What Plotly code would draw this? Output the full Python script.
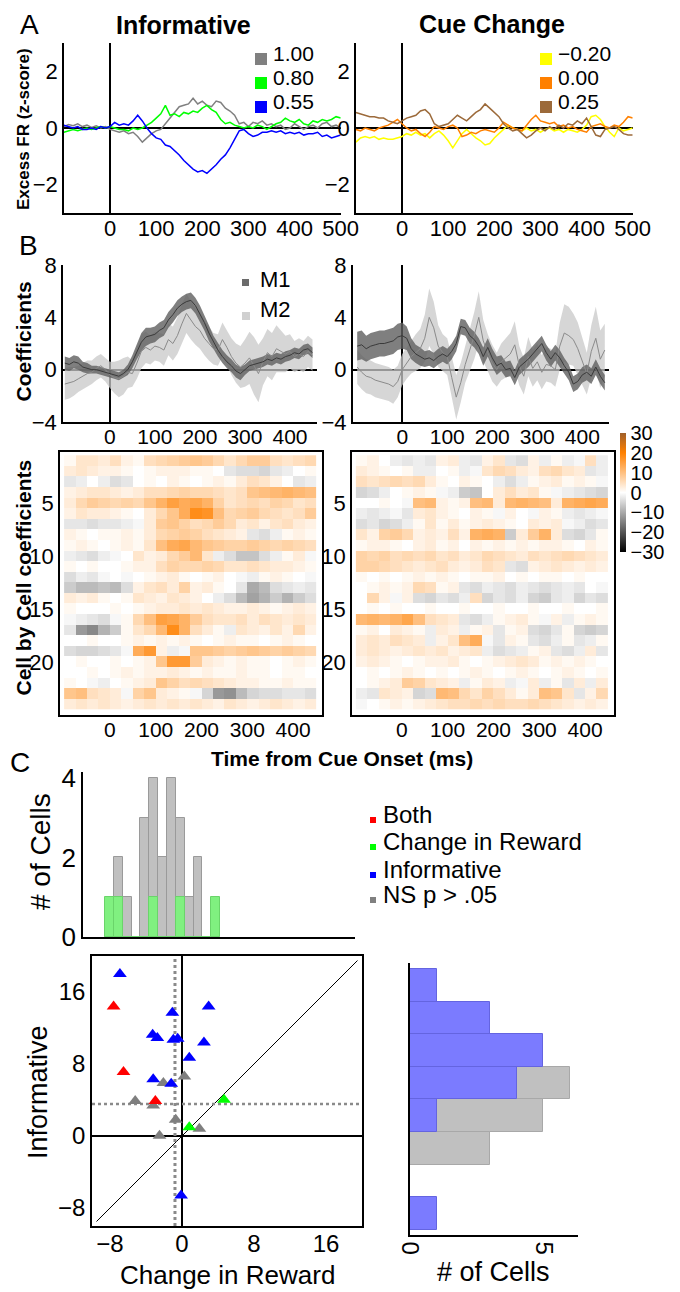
import plotly.graph_objects as go

# The page body adds an 8 px margin; all layout coordinates below are in
# reference-picture pixels and get shifted by OFF so they land in place.
OFF = 8
W, H = 680 - OFF, 1292 - OFF
FONT = "Liberation Sans"

# ---------------- DATA ----------------
# Panel A: excess firing rate (z-score), 10 ms steps
t_a = list(range(-100, 510, 10))
inf_100 = [0.05, 0.12, 0.08, 0.15, 0.05, 0.10, 0.02, 0.08, 0.00, 0.05,
           -0.05, -0.10, -0.15, -0.10, -0.20, -0.15, -0.30, -0.50, -0.35, -0.20,
           -0.10, -0.05, 0.15, 0.35, 0.55, 0.75, 0.80, 0.85, 1.05, 0.85,
           0.95, 0.80, 0.75, 0.95, 0.90, 0.70, 0.60, 0.45, 0.15, 0.20,
           0.05, 0.20, 0.15, 0.25, 0.10, 0.15, 0.05, 0.10, -0.05, 0.00,
           0.15, 0.05, -0.05, 0.05, 0.10, 0.00, 0.15, 0.20, 0.05, 0.10,
           0.00]
inf_080 = [-0.15, -0.10, -0.05, -0.10, -0.05, 0.00, -0.05, 0.00, 0.05, 0.00,
           0.05, 0.00, -0.05, -0.05, -0.10, 0.00, -0.05, 0.00, 0.10, 0.20,
           0.35, 0.50, 0.80, 0.45, 0.50, 0.40, 0.55, 0.50, 0.60, 0.55,
           0.70, 0.80, 0.65, 0.55, 0.30, 0.15, 0.20, 0.10, 0.05, 0.00,
           0.05, 0.00, 0.10, 0.05, -0.05, 0.05, 0.15, 0.20, 0.35, 0.25,
           0.20, 0.30, 0.15, 0.10, 0.25, 0.20, 0.30, 0.25, 0.30, 0.40,
           0.35]
inf_055 = [0.10, 0.05, 0.00, 0.05, -0.05, -0.05, 0.00, -0.05, 0.05, 0.00,
           0.05, 0.20, 0.10, 0.15, 0.10, 0.25, 0.45, 0.25, 0.00, -0.20,
           -0.35, -0.40, -0.60, -0.65, -0.80, -0.95, -1.15, -1.30, -1.45, -1.55,
           -1.50, -1.60, -1.45, -1.30, -1.10, -0.95, -0.70, -0.40, -0.10, -0.05,
           -0.20, -0.30, -0.25, -0.15, -0.15, -0.10, -0.15, -0.10, -0.20, -0.15,
           -0.20, -0.15, -0.25, -0.20, -0.20, -0.15, -0.30, -0.25, -0.35, -0.30,
           -0.25]
cue_m020 = [-0.50, -0.35, -0.30, -0.35, -0.30, -0.40, -0.35, -0.40, -0.40, -0.35,
            -0.30, -0.20, -0.25, -0.15, -0.25, -0.20, -0.35, -0.20, -0.10, -0.25,
            -0.45, -0.70, -0.45, -0.20, -0.05, -0.20, -0.35, -0.45, -0.60, -0.55,
            -0.35, -0.20, -0.05, 0.10, 0.00, -0.05, -0.10, 0.00, -0.10, -0.05,
            -0.15, -0.05, 0.00, -0.10, -0.05, -0.15, -0.05, -0.10, -0.15, -0.05,
            0.10, 0.40, 0.45, 0.30, 0.05, -0.15, -0.30, 0.00, -0.10, -0.05,
            0.00]
cue_000 = [-0.05, -0.10, 0.00, -0.05, -0.10, 0.00, 0.05, 0.10, 0.20, 0.30,
           0.15, 0.00, -0.10, -0.05, -0.20, -0.30, -0.15, 0.05, 0.00, -0.05,
           0.05, 0.10, 0.00, -0.30, -0.25, -0.15, -0.20, -0.10, -0.05, -0.10,
           -0.15, 0.00, 0.20, 0.10, 0.00, -0.05, -0.10, 0.10, 0.30, 0.45,
           0.25, 0.20, 0.15, 0.20, 0.05, 0.10, 0.00, 0.05, -0.05, -0.10,
           -0.15, 0.05, 0.10, 0.15, 0.05, 0.00, 0.10, 0.05, 0.20, 0.40,
           0.35]
cue_025 = [0.55, 0.50, 0.45, 0.40, 0.40, 0.35, 0.35, 0.25, 0.20, 0.15,
           0.25, 0.35, 0.40, 0.45, 0.60, 0.65, 0.50, 0.15, 0.05, 0.10,
           0.15, 0.30, 0.45, 0.35, 0.25, 0.40, 0.55, 0.65, 0.85, 0.70,
           0.55, 0.40, 0.15, 0.00, -0.10, -0.05, -0.20, -0.35, -0.25, -0.10,
           0.00, -0.10, 0.05, -0.05, 0.10, 0.00, 0.15, 0.10, 0.25, 0.15,
           0.35, 0.05, -0.25, -0.30, -0.05, 0.00, 0.05, -0.05, -0.20, -0.25,
           -0.25]

# Panel B: coefficients (mean and half-width of band), 10 ms steps
t_b = list(range(-100, 460, 10))
inf_m1 = [0.5, 0.4, 0.6, 0.5, 0.2, 0.1, 0.0, 0.0, -0.1, -0.2,
          -0.3, -0.4, -0.5, -0.3, 0.0, 0.6, 1.4, 2.1, 2.5, 2.6,
          2.7, 3.0, 3.2, 3.8, 4.2, 4.7, 5.0, 5.2, 5.3, 4.9,
          4.3, 3.6, 2.8, 2.1, 1.5, 1.0, 0.6, 0.3, -0.1, -0.3,
          0.0, 0.3, 0.4, 0.5, 0.6, 0.8, 0.7, 0.9, 0.8, 1.0,
          1.1, 1.3, 1.2, 1.5, 1.6, 1.3]
inf_m1_hw = [0.5, 0.5, 0.5, 0.5, 0.4, 0.4, 0.3, 0.3, 0.3, 0.3,
             0.3, 0.3, 0.3, 0.3, 0.4, 0.5, 0.6, 0.7, 0.7, 0.6,
             0.6, 0.6, 0.6, 0.6, 0.6, 0.6, 0.6, 0.6, 0.6, 0.6,
             0.6, 0.6, 0.6, 0.5, 0.5, 0.5, 0.5, 0.5, 0.5, 0.5,
             0.4, 0.4, 0.4, 0.4, 0.4, 0.4, 0.4, 0.4, 0.4, 0.4,
             0.4, 0.4, 0.4, 0.4, 0.4, 0.4]
inf_m2 = [-1.1, -1.0, -0.9, -0.7, -0.5, -0.3, -0.2, 0.1, 0.3, 0.0,
          -0.4, -0.6, -0.7, -0.5, -0.2, -0.3, 0.5, 1.4, 1.7, 1.5,
          1.8, 1.7, 1.5, 2.3, 2.0, 2.6, 3.5, 4.3, 3.8, 3.3,
          3.0, 2.4, 2.0, 1.6, 1.5, 2.3, 1.7, 1.0, 0.5, 0.2,
          0.5, 0.9, 0.3, -0.3, 0.6, 1.3, 1.0, 1.6, 1.4, 1.2,
          1.4, 1.0, 1.2, 1.0, 1.4, 1.1]
inf_m2_hw = [1.2, 1.2, 1.1, 1.0, 1.0, 1.0, 0.9, 0.9, 0.9, 0.9,
             1.0, 1.2, 1.4, 1.4, 1.2, 1.0, 1.2, 1.3, 1.2, 1.1,
             1.1, 1.1, 1.2, 1.2, 1.3, 1.4, 1.5, 1.5, 1.5, 1.4,
             1.4, 1.3, 1.3, 1.2, 1.2, 1.3, 1.3, 1.4, 1.5, 1.6,
             1.8, 2.0, 2.2, 2.2, 1.8, 1.8, 1.8, 1.8, 1.6, 1.4,
             1.3, 1.2, 1.2, 1.2, 1.2, 1.2]
cue_m1 = [1.8, 1.9, 1.6, 1.8, 1.9, 2.0, 2.0, 2.1, 2.2, 2.5,
          2.6, 2.4, 1.6, 1.2, 1.0, 0.8, 0.9, 0.7, 1.0, 1.2,
          1.0, 1.4, 2.0, 3.3, 3.2, 2.6, 2.3, 1.8, 1.0, 1.7,
          0.9, 0.3, 0.5, 0.0, 0.1, -0.6, 0.2, 0.5, 0.8, 1.2,
          1.6, 2.0, 1.3, 0.8, 1.3, 0.9, 0.3, -0.2, -1.1, -0.9,
          -0.4, -0.2, -0.5, 0.2, -0.5, -1.0]
cue_m1_hw = [1.1, 1.1, 1.0, 1.0, 1.0, 1.0, 1.0, 1.0, 1.0, 1.0,
             1.0, 0.9, 0.8, 0.7, 0.7, 0.6, 0.6, 0.6, 0.6, 0.6,
             0.6, 0.6, 0.6, 0.6, 0.6, 0.6, 0.6, 0.6, 0.7, 0.7,
             0.7, 0.7, 0.6, 0.6, 0.6, 0.6, 0.6, 0.6, 0.6, 0.6,
             0.6, 0.6, 0.6, 0.6, 0.6, 0.6, 0.6, 0.6, 0.6, 0.6,
             0.6, 0.6, 0.6, 0.6, 0.6, 0.6]
cue_m2 = [0.2, -0.2, -0.5, -0.6, -0.8, -0.9, -1.0, -1.1, -1.3, -0.9,
          0.0, 0.5, 1.0, 1.3, 1.6, 2.4, 4.0, 3.2, 1.8, 1.3,
          1.0, -0.6, -2.1, -1.0, 0.4, 1.5, 2.6, 4.0, 2.2, 1.3,
          0.5, 0.0, 0.6, 0.9, 1.2, 1.9, 0.3, -0.5, 1.0, 0.1,
          0.6, -0.2, 0.4, 0.3, 0.0, 1.8, 2.8, 2.6, 2.3, 1.6,
          0.6, -0.3, 1.4, 2.4, 0.8, 1.5]
cue_m2_hw = [1.3, 1.3, 1.3, 1.3, 1.3, 1.3, 1.3, 1.3, 1.3, 1.2,
             1.2, 1.2, 1.3, 1.4, 1.5, 1.8, 2.2, 2.0, 1.6, 1.4,
             1.4, 1.5, 1.7, 1.5, 1.4, 1.6, 1.8, 2.0, 1.6, 1.4,
             1.4, 1.3, 1.4, 1.5, 1.6, 1.8, 1.5, 1.4, 1.5, 1.4,
             1.4, 1.3, 1.3, 1.3, 1.3, 1.8, 2.2, 2.2, 2.0, 2.0,
             1.8, 1.6, 2.0, 2.4, 2.2, 2.0]

# Heatmaps: cell-by-cell coefficients, 25 ms bins
t_heat = [-87.5 + 25 * i for i in range(22)]
cells = list(range(1, 25))
heat_inf = [
    [1, 4, 4, 3, 5, 2, 1, 5, 6, 7, 8, 9, 8, 6, 4, 6, 8, 8, 5, 4, 5, 6],
    [3, 4, 3, 2, 2, 1, 0, 1, 2, 2, 2, 1, 1, 0, -3, -4, -4, -5, -3, -2, 0, 1],
    [-3, -2, 0, -2, -4, -3, 0, 1, 0, 2, 1, 0, 1, 2, 1, 3, 5, 4, 2, 0, -3, -2],
    [2, 3, 4, 4, 3, 2, 3, 5, 5, 6, 7, 6, 6, 5, 4, 5, 9, 10, 11, 12, 11, 10],
    [3, 6, 8, 7, 6, 7, 6, 9, 12, 15, 13, 14, 12, 7, 4, 5, 6, 5, 7, 6, 4, 5],
    [2, 4, 3, 3, 2, 1, 0, 3, 6, 9, 13, 18, 17, 10, 6, 7, 8, 6, 5, 4, 5, 8],
    [-3, -3, -4, -3, -3, -2, -1, 3, 8, 9, 7, 5, 6, 8, 6, 3, 4, 2, 4, 5, 3, 2],
    [2, 1, 0, 1, 1, 2, 1, 3, 6, 7, 8, 7, 5, 4, 3, 2, -3, -4, -2, 1, 2, 1],
    [1, 2, 1, 0, 1, 2, 1, 4, 10, 13, 14, 11, 9, 8, 7, 7, 8, 7, 6, 7, 6, 5],
    [-2, -3, -4, -2, -1, 0, 4, 2, 3, 6, 8, 11, 4, -2, -4, -7, -7, -4, -2, 1, 3, -1],
    [1, 0, 1, 0, 0, 1, 2, 2, 5, 7, 6, 6, 7, 6, 4, 4, 5, 4, 3, 3, 2, 1],
    [-4, -2, -3, -1, 0, -1, 0, 1, 2, 3, 1, 0, 1, 2, 0, -1, -2, 1, 2, 1, 0, -1],
    [-6, -8, -8, -7, -8, -4, 2, 4, 5, 3, 7, 2, 3, 1, 0, -3, -10, -8, -4, -3, -2, -3],
    [3, 2, 3, 1, 0, 1, 4, 3, 2, 4, 3, 2, 0, -2, -4, -8, -11, -9, -6, -9, -6, -4],
    [1, 0, 0, 0, 1, 0, 1, 2, 3, 3, 4, 3, 4, 3, 2, 2, 3, 2, 1, 2, 3, 2],
    [-1, -2, -3, -4, -1, 1, 6, 10, 15, 14, 12, 8, 5, 4, 4, 5, 3, 5, 4, 3, 4, 3],
    [-3, -12, -14, -9, -6, 1, 4, 6, 11, 18, 12, 5, 3, 1, -2, 4, 3, 2, 4, 2, 6, 2],
    [0, 0, 1, 0, 0, 1, 2, 1, 2, 1, 2, 1, 0, 1, 2, 1, 1, 0, 1, 2, 1, 0],
    [-4, -5, -5, -4, -3, -1, 13, 16, 2, -2, -1, 9, 9, 8, 7, 8, 9, 8, 7, 8, 7, 6],
    [0, 1, 0, 0, 1, 0, 1, 2, 9, 16, 16, 8, 3, 2, 1, 2, 1, 1, 0, 1, 2, 1],
    [0, 0, 1, 0, 1, 2, 1, 2, 2, 3, 2, 1, 2, 1, 1, 2, 1, 1, 0, 1, 1, 0],
    [1, 0, -1, -2, 0, 1, 2, 3, 9, 7, 5, 6, 5, 4, 3, 2, 2, 1, 1, 2, 1, 1],
    [9, 10, 5, 4, 3, -1, 7, 9, 3, 2, 1, -1, -5, -12, -13, -8, -5, -4, -4, -3, -3, -4],
    [3, 4, 3, 4, 3, 2, 3, 4, 3, 4, 3, 4, 3, 2, 4, 3, 2, 3, 4, 3, 2, 3],
]
heat_cue = [
    [1, 2, 0, -2, -3, -2, -3, 2, 3, -2, -3, 2, 4, -3, -4, 2, -2, 1, -2, -1, 5, -2],
    [3, 2, 1, 0, 1, -2, -2, 0, 1, -2, -1, 4, 6, 5, 3, 2, 5, 6, 4, 3, -3, -2],
    [5, 4, 5, 6, 5, 6, 3, 1, 0, 2, 1, 0, -2, -4, -2, 1, 2, 3, 1, 2, 1, -1],
    [-5, -4, -2, 0, 1, 2, 1, -1, -2, -6, -7, 0, 3, 5, 3, 4, 1, -1, -2, -3, -4, -5],
    [0, 0, 1, 0, -1, 10, 11, 2, 1, 2, 10, 11, 3, 11, 12, 11, 10, 3, 12, 13, 14, 13],
    [-2, -3, -2, -1, -3, 3, 4, 2, 1, 0, 2, 1, -1, 2, 0, -1, 2, 1, -2, -3, -2, -1],
    [-4, -3, -5, -4, -2, 1, 4, 1, 3, 1, 2, 3, 2, 1, 0, 3, 2, 3, -1, -2, -4, -3],
    [4, 2, 7, 8, 6, 2, 3, 2, 5, 2, 12, 13, 12, -6, 3, 8, 12, 3, -4, -5, -3, 1],
    [1, 2, 2, 1, 0, 2, 3, 1, 2, 0, 2, 1, 2, 1, 2, 1, 2, 2, 1, 0, 2, 1],
    [7, 6, 7, 5, 6, 5, 6, 4, 5, 3, 4, 6, 5, 4, 3, 5, 4, 5, 6, 5, 4, 3],
    [7, 7, 6, 5, 4, 3, 4, 5, 3, 2, 3, 5, 4, -3, -4, 2, 3, 4, 3, 2, 3, 2],
    [1, 0, 1, 0, 1, 2, 1, 2, 1, 0, 1, 1, 2, 0, 1, 0, 1, 1, 0, 1, 0, 0],
    [0, 1, 2, 1, 2, 6, 5, 1, 2, -3, -4, -2, -3, -4, -2, -3, -4, -3, -2, -3, 0, -1],
    [0, 6, 2, -1, 2, -4, -5, -3, -4, -2, 5, -5, -3, -4, -2, -5, -6, -3, -2, -5, -3, -4],
    [0, 1, 0, 1, 0, 0, 1, 0, 0, 1, 0, 0, 1, 0, 0, 1, 0, 0, 1, 0, 0, 1],
    [11, 12, 11, 12, 14, 10, 5, 4, 3, -3, -4, -2, 1, 2, 3, 1, -1, 2, -2, 1, 2, 1],
    [1, 2, 0, 3, 2, 1, -2, 3, 2, -2, 1, 2, -3, 1, 2, -4, -5, -3, 1, -5, -6, -5],
    [3, 4, 3, 5, 4, 3, -2, 2, 4, 10, 13, -1, -3, 2, 1, -3, -4, -2, 1, -3, -2, 1],
    [3, 4, 3, 2, 3, 4, 3, 4, 2, 3, 4, -2, -4, -3, -2, 1, 2, -3, -4, -2, 3, -3],
    [2, 3, 2, 1, 0, 1, 2, 2, 3, 1, 0, 1, 2, 3, 4, 3, 1, 2, 1, 2, 1, 0],
    [0, 1, 0, 1, 2, 1, 0, 1, 0, 1, 2, 1, 0, 1, 2, 1, 0, 1, 2, 1, 0, 1],
    [0, 1, 2, 3, 8, 7, 4, 3, 2, -2, 1, 3, 2, -2, -1, 3, -2, 1, -3, 3, -2, 3],
    [-2, -3, 4, 3, 2, -5, -4, 11, 10, 6, 4, 7, 5, 3, 1, 3, 10, 9, 4, -3, 2, 6],
    [-1, 0, 1, 2, 1, 2, 3, 4, 5, 5, 6, 5, 6, 5, 5, 6, 5, 4, 3, 2, 3, 2],
]

# Panel C: top histogram (Change in Reward)
top_bins = [-8.07, -7.09, -6.10, -5.12, -4.14, -3.15, -2.17, -1.19, -0.20, 0.78, 1.76, 2.75, 3.73]
top_ns = [0, 2, 1, 0, 3, 4, 2, 4, 3, 1, 2, 0, 0]
top_sig = [1, 1, 0, 0, 0, 1, 0, 0, 1, 0, 0, 0, 1]
top_width = 0.98

# Panel C: scatter (Change in Reward vs Informative)
blue_x = [-6.9, -1.07, 2.96, -3.26, -2.74, -0.96, -0.48, 2.44, 0.81, -3.2, -1.2, -0.1]
blue_y = [18.0, 13.7, 14.4, 11.26, 10.9, 10.7, 10.8, 10.4, 8.7, 6.3, 5.8, -6.6]
red_x = [-7.6, -6.5, -2.96]
red_y = [14.4, 7.1, 3.9]
gray_x = [-5.2, -3.2, -2.07, 0.26, -0.7, -2.5, 1.93]
gray_y = [3.9, 3.4, 5.9, 6.6, 1.8, 0.04, 0.8]
green_x = [4.67, 0.81]
green_y = [4.04, 0.96]
thr_x = -0.78
thr_y = 3.56
diag = [-9.5, 19.5]

# Panel C: right histogram (Informative)
right_bins = [16.86, 13.24, 9.62, 5.98, 2.36, -1.27, -4.89, -8.51]
right_sig = [1, 3, 5, 4, 1, 0, 0, 1]
right_ns = [0, 0, 0, 6, 5, 3, 0, 0]
right_width = 3.62

# ---------------- LAYOUT HELPERS ----------------
def X(p):
    return (p - OFF) / W

def Y(p):
    return 1 - (p - OFF) / H

def dx(a, b):
    return [X(a), X(b)]

def dy(top, bottom):
    return [Y(bottom), Y(top)]

def axis(**kw):
    d = dict(showgrid=False, color="black", linecolor="black", linewidth=1.5,
             zeroline=False, ticks="", showline=True, automargin=False,
             tickfont=dict(family=FONT, size=22, color="black"))
    d.update(kw)
    return d

ZL = dict(zeroline=True, zerolinecolor="black", zerolinewidth=1.5)
XS = dict(ticklabelstandoff=-5)

fig = go.Figure()

# ---- Panel A ----
for ys, col in [(inf_100, "#808080"), (inf_080, "#00ff00"), (inf_055, "#0000ff")]:
    fig.add_trace(go.Scatter(x=t_a, y=ys, mode="lines", line=dict(color=col, width=1.5),
                             xaxis="x", yaxis="y", hoverinfo="skip"))
for ys, col in [(cue_m020, "#ffff00"), (cue_000, "#ff8000"), (cue_025, "#9c6a3a")]:
    fig.add_trace(go.Scatter(x=t_a, y=ys, mode="lines", line=dict(color=col, width=1.5),
                             xaxis="x2", yaxis="y2", hoverinfo="skip"))

# ---- Panel B ----
def band(t, m, hw):
    up = [a + b for a, b in zip(m, hw)]
    lo = [a - b for a, b in zip(m, hw)]
    return t + t[::-1], up + lo[::-1]

for (m1, h1, m2, h2, xa, ya) in [(inf_m1, inf_m1_hw, inf_m2, inf_m2_hw, "x3", "y3"),
                                 (cue_m1, cue_m1_hw, cue_m2, cue_m2_hw, "x4", "y4")]:
    bx, by = band(t_b, m2, h2)
    fig.add_trace(go.Scatter(x=bx, y=by, fill="toself", fillcolor="rgba(200,200,200,0.75)",
                             line=dict(width=0), mode="lines", xaxis=xa, yaxis=ya, hoverinfo="skip"))
    bx, by = band(t_b, m1, h1)
    fig.add_trace(go.Scatter(x=bx, y=by, fill="toself", fillcolor="rgba(95,95,95,0.8)",
                             line=dict(width=0), mode="lines", xaxis=xa, yaxis=ya, hoverinfo="skip"))
    fig.add_trace(go.Scatter(x=t_b, y=m2, mode="lines", line=dict(color="#8a8a8a", width=1),
                             xaxis=xa, yaxis=ya, hoverinfo="skip"))
    fig.add_trace(go.Scatter(x=t_b, y=m1, mode="lines", line=dict(color="#3a3a3a", width=1),
                             xaxis=xa, yaxis=ya, hoverinfo="skip"))

# ---- Heatmaps ----
fig.add_trace(go.Heatmap(x=t_heat, y=cells, z=heat_inf, coloraxis="coloraxis",
                         xaxis="x5", yaxis="y5", hoverinfo="skip"))
fig.add_trace(go.Heatmap(x=t_heat, y=cells, z=heat_cue, coloraxis="coloraxis",
                         xaxis="x6", yaxis="y6", hoverinfo="skip"))

# ---- Panel C top histogram ----
fig.add_trace(go.Bar(x=top_bins, y=top_ns, width=top_width, marker=dict(color="#c0c0c0",
                     line=dict(color="#9a9a9a", width=1)), xaxis="x7", yaxis="y7", hoverinfo="skip"))
fig.add_trace(go.Bar(x=top_bins, y=top_sig, width=top_width, marker=dict(color="#80f080",
                     line=dict(color="#6ad46a", width=1)), xaxis="x7", yaxis="y7", hoverinfo="skip"))

# ---- Panel C scatter ----
fig.add_trace(go.Scatter(x=diag, y=diag, mode="lines", line=dict(color="black", width=1),
                         xaxis="x8", yaxis="y8", hoverinfo="skip"))
fig.add_trace(go.Scatter(x=[thr_x, thr_x], y=[-10, 20], mode="lines",
                         line=dict(color="#8a8a8a", width=3, dash="dot"),
                         xaxis="x8", yaxis="y8", hoverinfo="skip"))
fig.add_trace(go.Scatter(x=[-10, 20], y=[thr_y, thr_y], mode="lines",
                         line=dict(color="#8a8a8a", width=2.5, dash="dot"),
                         xaxis="x8", yaxis="y8", hoverinfo="skip"))
for xs, ys, col in [(gray_x, gray_y, "#7f7f7f"), (green_x, green_y, "#00ff00"),
                    (red_x, red_y, "#ff0000"), (blue_x, blue_y, "#0000ff")]:
    fig.add_trace(go.Scatter(x=xs, y=ys, mode="markers",
                             marker=dict(symbol="triangle-up", size=12, color=col, line=dict(width=0)),
                             xaxis="x8", yaxis="y8", hoverinfo="skip"))

# ---- Panel C right histogram ----
fig.add_trace(go.Bar(y=right_bins, x=right_ns, width=right_width, orientation="h",
                     marker=dict(color="#c0c0c0", line=dict(color="#a8a8a8", width=1)),
                     xaxis="x9", yaxis="y9", hoverinfo="skip"))
fig.add_trace(go.Bar(y=right_bins, x=right_sig, width=right_width, orientation="h",
                     marker=dict(color="#7b7bff", line=dict(color="#6464e0", width=1)),
                     xaxis="x9", yaxis="y9", hoverinfo="skip"))

# ---------------- AXES ----------------
t_ticks_a = [0, 100, 200, 300, 400, 500]
t_ticks_b = [0, 100, 200, 300, 400]
F21 = dict(family=FONT, size=21, color="black")
lay = dict(
    xaxis=axis(domain=dx(63.9, 340.7), range=[-100, 500], tickvals=t_ticks_a, anchor="y", **ZL, **XS),
    yaxis=axis(domain=dy(43, 213), range=[-3, 3], tickvals=[-2, 0, 2], anchor="x", **ZL),
    xaxis2=axis(domain=dx(355.9, 632.7), range=[-100, 500], tickvals=t_ticks_a, anchor="y2", **ZL, **XS),
    yaxis2=axis(domain=dy(43, 213), range=[-3, 3], tickvals=[-2, 0, 2], anchor="x2", **ZL),
    xaxis3=axis(domain=dx(63, 317), range=[-104, 460], tickvals=t_ticks_b, anchor="y3",
                tickfont=F21, **ZL, **XS),
    yaxis3=axis(domain=dy(265, 422), range=[-4, 8], tickvals=[-4, 0, 4, 8], anchor="x3", **ZL),
    xaxis4=axis(domain=dx(352.7, 609.3), range=[-110, 460], tickvals=t_ticks_b, anchor="y4",
                tickfont=F21, **ZL, **XS),
    yaxis4=axis(domain=dy(265, 422), range=[-4, 8], tickvals=[-4, 0, 4, 8], anchor="x4", **ZL),
    xaxis5=axis(domain=dx(60, 322), range=[-109, 463], tickvals=t_ticks_b, anchor="y5", mirror=True,
                tickfont=F21, **XS),
    yaxis5=axis(domain=dy(452, 715), range=[25.0, 0.19], tickvals=[5, 10, 15, 20], anchor="x5", mirror=True),
    xaxis6=axis(domain=dx(352, 614), range=[-108.5, 463], tickvals=t_ticks_b, anchor="y6", mirror=True,
                tickfont=F21, **XS),
    yaxis6=axis(domain=dy(452, 715), range=[25.0, 0.19], tickvals=[5, 10, 15, 20], anchor="x6", mirror=True),
    xaxis7=axis(domain=dx(83, 355), range=[-11, 19.2], showticklabels=False, anchor="y7"),
    yaxis7=axis(domain=dy(772, 937), range=[0, 4.15], tickvals=[0, 2, 4], anchor="x7",
                tickfont=dict(family=FONT, size=26, color="black")),
    xaxis8=axis(domain=dx(92, 362), range=[-10, 20], tickvals=[-8, 0, 8, 16], anchor="y8", mirror=True,
                tickfont=dict(family=FONT, size=24, color="black"), **ZL, **XS),
    yaxis8=axis(domain=dy(956, 1226), range=[-10, 20], tickvals=[-8, 0, 8, 16], anchor="x8", mirror=True,
                tickfont=dict(family=FONT, size=24, color="black"), **ZL),
    xaxis9=axis(domain=dx(410, 578), range=[0, 6.3], tickvals=[0, 5], tickangle=90, anchor="y9",
                tickfont=dict(family=FONT, size=24, color="black")),
    yaxis9=axis(domain=dy(963, 1235), range=[-10.89, 19.33], showticklabels=False, anchor="x9"),
)

coloraxis = dict(
    cmin=-30, cmax=30,
    colorscale=[[0, "#000000"], [0.5, "#ffffff"], [0.8333, "#ff8000"], [1, "#a0602a"]],
    colorbar=dict(x=X(620), xanchor="left", y=Y(433), yanchor="top", len=119, lenmode="pixels",
                  thickness=6, thicknessmode="pixels", xpad=0, ypad=0, outlinewidth=0,
                  tickvals=[-30, -20, -10, 0, 10, 20, 30], ticks="",
                  tickfont=dict(family=FONT, size=20, color="black")),
)

# ---------------- TEXT ----------------
ann = []

def txt(x, y, s, size, bold=False, angle=0, xanchor="center", yanchor="middle"):
    if bold:
        s = "<b>" + s + "</b>"
    ann.append(dict(x=X(x), y=Y(y), xref="paper", yref="paper", text=s, showarrow=False,
                    textangle=angle, xanchor=xanchor, yanchor=yanchor,
                    font=dict(family=FONT, size=size, color="black")))

txt(29, 25, "A", 28)
txt(28, 245, "B", 28)
txt(20, 762, "C", 28)
txt(183, 25, "Informative", 25, bold=True)
txt(492, 24, "Cue Change", 25, bold=True)
txt(23.5, 129.5, "Excess FR (z-score)", 17, bold=True, angle=-90)
txt(23.5, 342, "Coefficients", 21, bold=True, angle=-90)
txt(22.5, 578, "Cell by Cell coefficients", 21, bold=True, angle=-90)
txt(342, 758, "Time from Cue Onset (ms)", 21, bold=True)
txt(40, 852, "# of Cells", 28, angle=-90)
txt(227, 1275, "Change in Reward", 26)
txt(38, 1092, "Informative", 27, angle=-90)
txt(493, 1272, "# of Cells", 27)

shapes = []

def sq(x0, x1, y0, y1, col):
    shapes.append(dict(type="rect", xref="paper", yref="paper", x0=X(x0), x1=X(x1),
                       y0=Y(y1), y1=Y(y0), fillcolor=col, line=dict(width=0)))

# Panel A legends
for lab, col, yc in [("1.00", "#808080", 54), ("0.80", "#00ff00", 78), ("0.55", "#0000ff", 102)]:
    sq(255, 267, yc - 1, yc + 11, col)
    txt(271, yc, lab, 21, xanchor="left")
for lab, col, yc in [("\u22120.20", "#ffff00", 54), ("0.00", "#ff8000", 78), ("0.25", "#9c6a3a", 102)]:
    sq(540, 552, yc - 1, yc + 11, col)
    txt(556, yc, lab, 21, xanchor="left")
# Panel B legend
sq(242, 249, 279, 286, "#6b6b6b")
txt(258, 279.5, "M1", 22, xanchor="left")
sq(242, 250, 312, 320, "#d0d0d0")
txt(258, 310, "M2", 22, xanchor="left")
# Panel C legend
for lab, col, yc in [("Both", "#ff0000", 814), ("Change in Reward", "#00ff00", 841),
                     ("Informative", "#0000ff", 869), ("NS p > .05", "#808080", 894)]:
    sq(370, 376, yc + 3, yc + 9, col)
    txt(381, yc, lab, 24, xanchor="left")

fig.update_layout(
    width=W, height=H, margin=dict(l=0, r=0, t=0, b=0, autoexpand=False),
    paper_bgcolor="white", plot_bgcolor="rgba(0,0,0,0)",
    showlegend=False, barmode="overlay", bargap=0,
    font=dict(family=FONT, color="black"),
    coloraxis=coloraxis, annotations=ann, shapes=shapes, **lay,
)

fig.write_html("out.html")
